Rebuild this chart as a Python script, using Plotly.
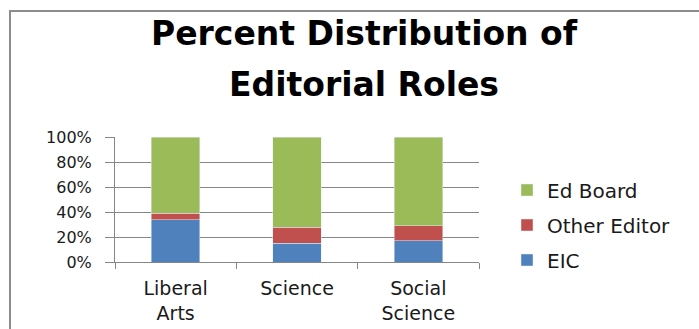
import plotly.graph_objects as go

categories = ["Liberal<br>Arts", "Science", "Social<br>Science"]
eic = [34, 15, 17]
other_editor = [5, 13, 12]
ed_board = [61, 72, 71]
y_ticks = [0, 20, 40, 60, 80, 100]
y_tick_labels = ["0%", "20%", "40%", "60%", "80%", "100%"]
title_lines = ["Percent Distribution of", "Editorial Roles"]

FONT = "DejaVu Sans"
GRID = "#868686"
TEXT = "#1a1a1a"
BORDER = "#8c8c8c"

# plotting-area pixel box, used to place paper-referenced extras
PX0, PX1 = 115, 479
PY0, PY1 = 262, 137


def to_x(p):
    return (p - PX0) / (PX1 - PX0)


def to_y(p):
    return (PY0 - p) / (PY0 - PY1)


fig = go.Figure()
# stacked bottom to top; legend lists the top segment first
for name, vals, color, rank in [
    ("EIC", eic, "#4f81bd", 3),
    ("Other Editor", other_editor, "#c0504d", 2),
    ("Ed Board", ed_board, "#9bbb59", 1),
]:
    fig.add_trace(go.Bar(name=name, x=categories, y=vals, marker_color=color,
                         width=0.4, legendgroup=name, legendrank=rank))

fig.update_layout(
    barmode="stack",
    width=699, height=329,
    margin=dict(l=PX0, r=699 - PX1, t=PY1, b=329 - PY0, autoexpand=False),
    paper_bgcolor="white", plot_bgcolor="white",
    font=dict(family=FONT, size=16, color=TEXT),
    showlegend=True,
    legend=dict(
        traceorder="grouped",
        x=to_x(507), y=to_y(225), xanchor="left", yanchor="middle",
        font=dict(family=FONT, size=20, color=TEXT),
        tracegroupgap=6,
        bgcolor="rgba(0,0,0,0)",
    ),
)

for line, cy in zip(title_lines, [34, 84]):
    fig.add_annotation(
        text="<b>%s</b>" % line,
        x=to_x(364), y=to_y(cy), xref="paper", yref="paper",
        xanchor="center", yanchor="middle", showarrow=False,
        font=dict(family=FONT, size=33, color="black"),
    )

# chart frame: top edge and left edge
fig.add_shape(type="line", xref="paper", yref="paper",
              x0=to_x(9), x1=to_x(699), y0=to_y(11), y1=to_y(11),
              line=dict(color=BORDER, width=2), layer="above")
fig.add_shape(type="line", xref="paper", yref="paper",
              x0=to_x(10), x1=to_x(10), y0=to_y(10), y1=to_y(329),
              line=dict(color=BORDER, width=2), layer="above")

fig.update_xaxes(
    showline=True, linecolor=GRID, linewidth=1,
    ticks="outside", tickson="boundaries", ticklen=6, tickcolor=GRID,
    tickfont=dict(family=FONT, size=19, color=TEXT),
    ticklabelstandoff=9, automargin=False,
    showgrid=False,
)
fig.update_yaxes(
    range=[0, 100], tickvals=y_ticks, ticktext=y_tick_labels,
    showline=True, linecolor=GRID, linewidth=1,
    ticks="outside", ticklen=9, tickcolor=GRID,
    ticklabelstandoff=10, automargin=False,
    showgrid=True, gridcolor=GRID, gridwidth=1,
    tickfont=dict(family=FONT, size=16, color=TEXT),
    zeroline=False,
)

fig.write_html("out.html")
